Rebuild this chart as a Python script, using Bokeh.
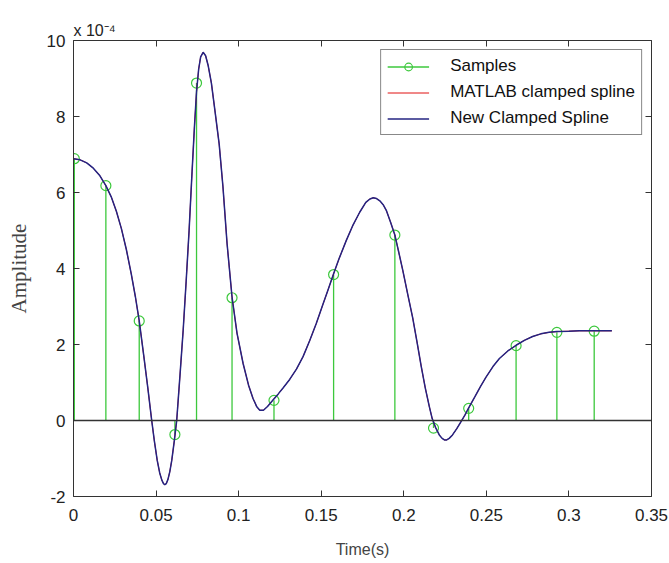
from bokeh.plotting import figure
from bokeh.models import (Range1d, LinearAxis, FixedTicker, Span, Legend,
                          LegendItem, NumeralTickFormatter)
from bokeh.embed import file_html
from bokeh.resources import INLINE

# Sample instants (s) and amplitudes (x 1e-4)
sample_t = [0.0005, 0.0196, 0.0398, 0.0614, 0.0745, 0.0960, 0.1214,
            0.1575, 0.1946, 0.2180, 0.2393, 0.2680, 0.2927, 0.3153]
sample_amp = [6.89, 6.18, 2.62, -0.37, 8.88, 3.23, 0.53,
              3.84, 4.88, -0.20, 0.32, 1.97, 2.32, 2.35]

# Spline curve (x 1e-4)
spline_t = [0.0000, 0.0040, 0.0080, 0.0120, 0.0160, 0.0196, 0.0230, 0.0260,
            0.0290, 0.0320, 0.0350, 0.0375, 0.0398, 0.0425, 0.0450, 0.0473,
            0.0490, 0.0507, 0.0522, 0.0535, 0.0545, 0.0553, 0.0562, 0.0572,
            0.0583, 0.0595, 0.0610, 0.0625, 0.0645, 0.0664, 0.0682, 0.0700,
            0.0718, 0.0732, 0.0745, 0.0758, 0.0770, 0.0785, 0.0800, 0.0815,
            0.0835, 0.0858, 0.0882, 0.0905, 0.0930, 0.0960, 0.0990, 0.1027,
            0.1060, 0.1087, 0.1110, 0.1128, 0.1150, 0.1175, 0.1208, 0.1240,
            0.1270, 0.1309, 0.1350, 0.1390, 0.1430, 0.1470, 0.1510, 0.1540,
            0.1575, 0.1610, 0.1652, 0.1690, 0.1733, 0.1770, 0.1795, 0.1815,
            0.1835, 0.1855, 0.1875, 0.1894, 0.1920, 0.1946, 0.1970, 0.1994,
            0.2024, 0.2054, 0.2080, 0.2105, 0.2130, 0.2155, 0.2172, 0.2192,
            0.2215, 0.2232, 0.2246, 0.2260, 0.2275, 0.2295, 0.2320, 0.2345,
            0.2370, 0.2393, 0.2430, 0.2465, 0.2498, 0.2540, 0.2579, 0.2630,
            0.2680, 0.2730, 0.2780, 0.2830, 0.2880, 0.2927, 0.3000, 0.3062,
            0.3153, 0.3260]
spline_amp = [6.89, 6.86, 6.78, 6.64, 6.44, 6.18, 5.87, 5.50,
              5.05, 4.50, 3.85, 3.25, 2.62, 1.72, 0.86, 0.02,
              -0.55, -1.05, -1.38, -1.57, -1.66, -1.69, -1.66, -1.55,
              -1.35, -1.05, -0.55, 0.00, 1.20, 2.37, 3.65, 5.00,
              6.55, 7.70, 8.65, 9.25, 9.57, 9.69, 9.60, 9.35,
              8.88, 8.10, 7.28, 6.15, 4.65, 3.25, 2.30, 1.50,
              0.93, 0.58, 0.36, 0.27, 0.27, 0.37, 0.54, 0.70,
              0.86, 1.08, 1.35, 1.68, 2.10, 2.55, 3.05, 3.42,
              3.86, 4.28, 4.74, 5.12, 5.48, 5.74, 5.83, 5.86,
              5.84, 5.78, 5.68, 5.53, 5.22, 4.88, 4.42, 3.95,
              3.32, 2.70, 2.07, 1.44, 0.86, 0.36, 0.05, -0.18,
              -0.38, -0.47, -0.51, -0.51, -0.47, -0.38, -0.22, -0.04,
              0.14, 0.33, 0.62, 0.90, 1.14, 1.42, 1.63, 1.83,
              1.98, 2.11, 2.21, 2.28, 2.32, 2.34, 2.35, 2.36,
              2.36, 2.36]

x_ticks = [0, 0.05, 0.1, 0.15, 0.2, 0.25, 0.3, 0.35]
y_ticks = [-2, 0, 2, 4, 6, 8, 10]

AX = "#333333"
GREEN = "#3cc83c"
BLUE = "#242482"
RED = "#e01010"
SANS = "Liberation Sans"

p = figure(width=669, height=563, x_range=Range1d(0, 0.35), y_range=Range1d(-2, 10),
           output_backend="svg", toolbar_location=None,
           min_border_left=73, min_border_right=18, min_border_top=40, min_border_bottom=67)
p.grid.visible = False
p.outline_line_color = None
p.background_fill_color = "white"
p.border_fill_color = "white"

p.title.text = "x 10\u207b\u2074"
p.title.align = "left"
p.title.offset = 0
p.title.standoff = 4
p.title.text_font = SANS
p.title.text_font_size = "16px"
p.title.text_font_style = "normal"
p.title.text_color = "#222222"

def style_axis(ax, ticks):
    ax.ticker = FixedTicker(ticks=ticks)
    ax.major_tick_in = 6
    ax.major_tick_out = 0
    ax.minor_tick_line_color = None
    ax.axis_line_color = AX
    ax.major_tick_line_color = AX
    ax.major_label_text_font = SANS
    ax.major_label_text_font_size = "17px"
    ax.major_label_text_color = "#222222"

xa = p.xaxis[0]
style_axis(xa, x_ticks)
xa.formatter = NumeralTickFormatter(format="0.[00]")
xa.major_label_standoff = 12
xa.axis_label = "Time(s)"
xa.axis_label_text_font = SANS
xa.axis_label_text_font_size = "16px"
xa.axis_label_text_font_style = "normal"
xa.axis_label_standoff = 17

ya = p.yaxis[0]
style_axis(ya, y_ticks)
ya.formatter = NumeralTickFormatter(format="0")
ya.major_label_standoff = 8
ya.axis_label = "Amplitude"
ya.axis_label_text_font = "Liberation Serif"
ya.axis_label_text_font_size = "21px"
ya.axis_label_text_font_style = "normal"
ya.axis_label_standoff = 13

top = LinearAxis()
style_axis(top, x_ticks)
top.major_label_text_font_size = "1px"
top.major_label_text_color = None
top.major_label_standoff = 0
p.add_layout(top, "above")

right = LinearAxis()
style_axis(right, y_ticks)
right.major_label_text_font_size = "1px"
right.major_label_text_color = None
right.major_label_standoff = 0
p.add_layout(right, "right")

p.add_layout(Span(location=0, dimension="width", line_color=AX, line_width=1.3))

stems = p.segment(x0=sample_t, y0=[0] * len(sample_t), x1=sample_t, y1=sample_amp,
                  line_color=GREEN, line_width=1.3)
marks = p.scatter(sample_t, sample_amp, marker="circle", size=10,
                  fill_color=None, line_color=GREEN, line_width=1.2)
matlab = p.line(spline_t, spline_amp, line_color=RED, line_width=1.0)
new = p.line(spline_t, spline_amp, line_color=BLUE, line_width=1.5)

legend = Legend(items=[
    LegendItem(label="Samples", renderers=[stems, marks]),
    LegendItem(label="MATLAB clamped spline", renderers=[matlab]),
    LegendItem(label="New Clamped Spline", renderers=[new]),
], location="top_right")
legend.margin = 9
legend.padding = 6
legend.spacing = 6
legend.glyph_width = 42
legend.glyph_height = 19
legend.label_height = 19
legend.label_standoff = 21
legend.label_text_font = SANS
legend.label_text_font_size = "17px"
legend.label_text_color = "#111111"
legend.border_line_color = "#111111"
legend.border_line_width = 1
legend.background_fill_color = "white"
legend.background_fill_alpha = 1
p.add_layout(legend, "center")

open("out.html", "w").write(file_html(p, INLINE))
